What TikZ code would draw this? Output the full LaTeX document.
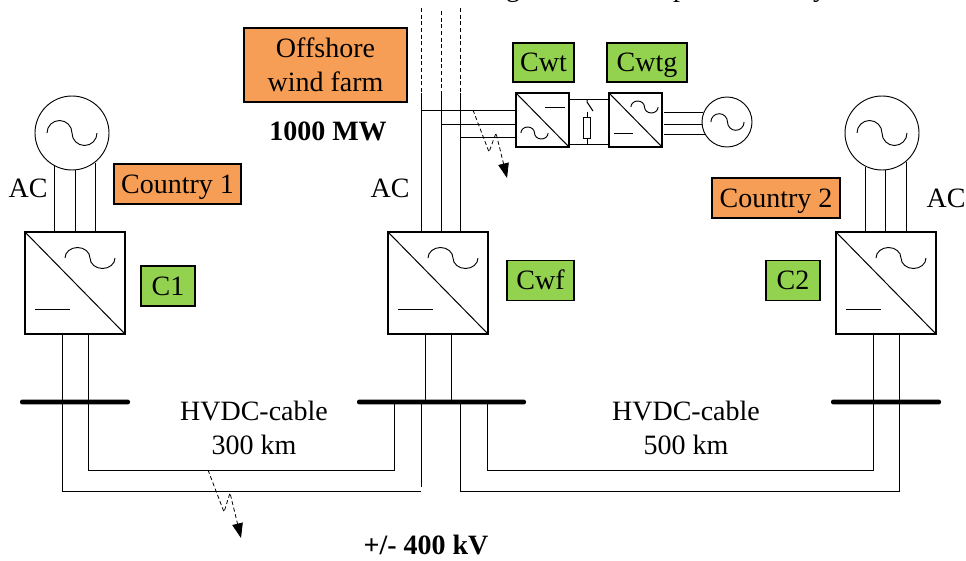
\documentclass[tikz,border=0pt]{standalone}
\usepackage{fontspec}
\setmainfont{Liberation Serif}
\usetikzlibrary{arrows.meta}

\definecolor{farmorange}{HTML}{F79E56}
\definecolor{convgreen}{HTML}{92D24F}

\tikzset{
  txt/.style={font=\fontsize{21}{25.5}\selectfont, align=center, inner sep=0pt},
  boldtxt/.style={txt, font=\fontsize{21}{25.5}\selectfont\bfseries},
  orangebox/.style={txt, draw=black, fill=farmorange, line width=1.1pt},
  greenbox/.style={txt, draw=black, fill=convgreen, line width=1.1pt},
  oneline/.style={text height=13.9pt, text depth=0pt},
  bigconv/.style={draw, line width=0.8pt, inner sep=0pt, minimum width=75pt, minimum height=76.5pt},
  smallconv/.style={draw, line width=0.8pt, inner sep=0pt, minimum width=39.75pt, minimum height=40.5pt},
  biggen/.style={draw, circle, line width=0.7pt, inner sep=0pt, minimum size=55.5pt},
  smallgen/.style={draw, circle, line width=0.7pt, inner sep=0pt, minimum size=37.5pt},
  busbar/.style={fill=black, rounded corners=1.6pt, inner sep=0pt, minimum height=3.6pt},
  faultline/.style={dash pattern=on 3pt off 2pt, line width=0.6pt, -{Triangle[length=11pt,width=8pt]}}
}

% wave: centre x, centre y, quarter width, height
\newcommand{\acwave}[4]{
  \draw[line width=0.7pt] (#1-2*#3,#2) arc[start angle=180, end angle=360, x radius=#3, y radius=#4]
    arc[start angle=180, end angle=0, x radius=#3, y radius=#4];
}

\begin{document}
\begin{tikzpicture}[x=0.75pt, y=-0.75pt, line width=0.75pt]
\useasboundingbox (0,0) rectangle (966,560);

% line cut off by the top edge
\node[txt, anchor=base] (capg) at (513,-3) {g};
\node[txt, anchor=base] (capp) at (680,-3) {p};
\node[txt, anchor=base] (capy) at (820,-3) {y};

% converters and generators
\node[bigconv] (cvA) at (75,283) {};
\node[bigconv] (cvB) at (438,283) {};
\node[bigconv] (cvC) at (886,283) {};
\node[smallconv] (cvT) at (542.5,120) {};
\node[smallconv] (cvG) at (635.5,120) {};
\node[biggen] (genA) at (72,133) {};
\node[biggen] (genC) at (882,133) {};
\node[smallgen] (genT) at (727,122) {};

% bars
\node[busbar, minimum width=82.5pt] (busA) at (75,402) {};
\node[busbar, minimum width=126.75pt] (busB) at (441.5,402) {};
\node[busbar, minimum width=82.5pt] (busC) at (886,402) {};

% labels
\node[orangebox, minimum width=122pt, minimum height=55.5pt] (farm) at (325.5,65) {Offshore\\wind farm};
\node[orangebox, oneline, minimum width=95pt, minimum height=30pt] (ctyA) at (177.5,184) {Country 1};
\node[orangebox, oneline, minimum width=96pt, minimum height=30pt] (ctyC) at (776,198) {Country 2};
\node[greenbox, oneline, minimum width=40.5pt, minimum height=30pt] (lbA) at (168,286) {C1};
\node[greenbox, oneline, minimum width=50pt, minimum height=30pt] (lbB) at (540.5,280.5) {Cwf};
\node[greenbox, oneline, minimum width=40.5pt, minimum height=30pt] (lbC) at (793,280.5) {C2};
\node[greenbox, oneline, minimum width=45.5pt, minimum height=29pt] (lbT) at (543.5,62.5) {Cwt};
\node[greenbox, oneline, minimum width=60pt, minimum height=29pt] (lbG) at (647,62.5) {Cwtg};
\node[boldtxt] (power) at (328,131) {1000 MW};
\node[boldtxt] (volt) at (426,545) {+/- 400 kV};
\node[txt] (acA) at (28,188) {AC};
\node[txt] (acB) at (390,188) {AC};
\node[txt] (acC) at (946,198) {AC};
\node[txt] (cabA) at (254,428) {HVDC-cable\\300 km};
\node[txt] (cabC) at (686,428) {HVDC-cable\\500 km};

% converter symbols
\draw (cvA.north west) -- (cvA.south east);
\draw (cvB.north west) -- (cvB.south east);
\draw (cvC.north west) -- (cvC.south east);
\draw (cvT.north west) -- (cvT.south east);
\draw (cvG.north west) -- (cvG.south east);
\draw (35,309) -- (70,309);
\draw (398,309) -- (433,309);
\draw (846,309) -- (881,309);
\draw (545,107) -- (565,107);
\draw (614,133) -- (633,133);
\acwave{90}{258}{12.5}{10.5}
\acwave{453}{258}{12.5}{10.5}
\acwave{901}{258}{12.5}{10.5}
\acwave{534.5}{133}{6.8}{6}
\acwave{644.5}{107}{6.8}{6}
\acwave{72}{133}{12.5}{12.5}
\acwave{882}{133}{12.5}{12.5}
\acwave{727.5}{122}{8.3}{8.3}

% ac side
\draw (genA.243) -- (genA.243 |- cvA.north);
\draw (genA.275) -- (genA.275 |- cvA.north);
\draw (genA.308) -- (genA.308 |- cvA.north);
\draw (genC.244) -- (genC.244 |- cvC.north);
\draw (genC.276) -- (genC.276 |- cvC.north);
\draw (genC.310) -- (genC.310 |- cvC.north);

% platform
\coordinate (upA) at (421,93);
\coordinate (upB) at (441,93);
\coordinate (upC) at (460,93);
\draw[densely dashed] (421,8) -- (upA);
\draw[densely dashed] (441,11) -- (upB);
\draw[densely dashed] (460,8) -- (upC);
\draw (upA) -- (upA |- cvB.north);
\draw (upB) -- (upB |- cvB.north);
\draw (upC) -- (upC |- cvB.north);
\coordinate (tapA) at (421,110);
\coordinate (tapB) at (441,124);
\coordinate (tapC) at (460,137);
\draw (tapA) -- (tapA -| cvT.west);
\draw (tapB) -- (tapB -| cvT.west);
\draw (tapC) -- (tapC -| cvT.west);

% dc link
\coordinate (lkA) at (569,99);
\coordinate (lkB) at (569,144);
\draw (lkA) -- (lkA -| cvG.west);
\draw (lkB) -- (lkB -| cvG.west);
\node[draw, line width=0.7pt, inner sep=0pt, minimum width=5.25pt, minimum height=15.75pt] (res) at (587,127.5) {};
\draw (res.north |- lkA) -- (587,102) -- (593,111);
\draw (587,112) -- (res.north);
\draw (res.south) -- (res.south |- lkB);

% wind generator
\coordinate (cvGr) at (664,122);
\draw (genT.159) -- (cvGr |- genT.159);
\draw (genT.185) -- (cvGr |- genT.185);
\draw (genT.209) -- (cvGr |- genT.209);

% dc side
\coordinate (dcA) at (62,334);
\coordinate (dcB) at (88,334);
\coordinate (dcC) at (425,334);
\coordinate (dcD) at (451,334);
\coordinate (dcE) at (873,334);
\coordinate (dcF) at (899,334);
\coordinate (retA) at (421,491);
\coordinate (retB) at (394,470);
\coordinate (retC) at (460,491);
\coordinate (retD) at (487,470);
\draw (dcA) |- (retA);
\draw (retA |- busB) -- (421,487);
\draw (dcB) |- (retB) -- (retB |- busB);
\draw (dcC) -- (dcC |- busB);
\draw (dcD) -- (dcD |- busB);
\draw (dcF) |- (retC) -- (retC |- busB);
\draw (dcE) |- (retD) -- (retD |- busB);

% faults
\coordinate (fltA) at (473,110);
\coordinate (fltB) at (208,470);
\draw[faultline] (fltA) -- (489,152) -- (496,133) -- (507,178);
\draw[faultline] (fltB) -- (224,512) -- (230,493) -- (241,538);

\end{tikzpicture}
\end{document}
